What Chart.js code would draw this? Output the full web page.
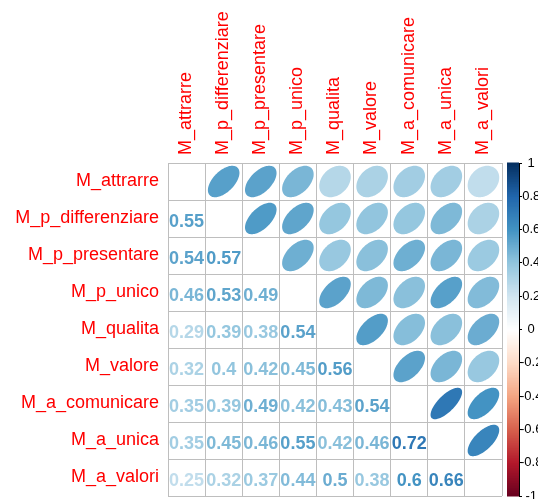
<!DOCTYPE html>
<html>
<head>
<meta charset="utf-8">
<title>Correlazioni</title>
<script src="https://cdn.jsdelivr.net/npm/chart.js@4/dist/chart.umd.min.js"></script>
<style>
  html, body { margin: 0; padding: 0; background: #ffffff; }
  #wrap { width: 538px; height: 499px; }
</style>
</head>
<body>
<div id="wrap"><canvas id="corr" width="538" height="499"></canvas></div>
<script>
// Variables (same order on rows and columns)
const variables = [
  'M_attrarre', 'M_p_differenziare', 'M_p_presentare', 'M_p_unico', 'M_qualita',
  'M_valore', 'M_a_comunicare', 'M_a_unica', 'M_a_valori'
];

// Lower triangle of the correlation matrix, one array per row
const r_attrarre        = [];
const r_p_differenziare = [0.55];
const r_p_presentare    = [0.54, 0.57];
const r_p_unico         = [0.46, 0.53, 0.49];
const r_qualita         = [0.29, 0.39, 0.38, 0.54];
const r_valore          = [0.32, 0.40, 0.42, 0.45, 0.56];
const r_a_comunicare    = [0.35, 0.39, 0.49, 0.42, 0.43, 0.54];
const r_a_unica         = [0.35, 0.45, 0.46, 0.55, 0.42, 0.46, 0.72];
const r_a_valori        = [0.25, 0.32, 0.37, 0.44, 0.50, 0.38, 0.60, 0.66];

// Colour legend ticks
const legendTicks = [1, 0.8, 0.6, 0.4, 0.2, 0, -0.2, -0.4, -0.6, -0.8, -1];

const lowerRows = [r_attrarre, r_p_differenziare, r_p_presentare, r_p_unico, r_qualita,
                   r_valore, r_a_comunicare, r_a_unica, r_a_valori];

// Diverging red-blue palette from -1 to 1
const rdbu = ['#67001F', '#B2182B', '#D6604D', '#F4A582', '#FDDBC7', '#FFFFFF',
              '#D1E5F0', '#92C5DE', '#4393C3', '#2166AC', '#053061'];

function hexToRgb(h) {
  return [parseInt(h.slice(1, 3), 16), parseInt(h.slice(3, 5), 16), parseInt(h.slice(5, 7), 16)];
}
function corrColor(v) {
  const pos = (Math.max(-1, Math.min(1, v)) + 1) / 2 * (rdbu.length - 1);
  const i = Math.min(rdbu.length - 2, Math.floor(pos));
  const t = pos - i;
  const a = hexToRgb(rdbu[i]), b = hexToRgb(rdbu[i + 1]);
  const c = a.map((x, k) => Math.round(x + (b[k] - x) * t));
  return 'rgb(' + c.join(',') + ')';
}

// Full symmetric matrix
function corrAt(i, j) {
  if (i === j) return 1;
  return i > j ? lowerRows[i][j] : lowerRows[j][i];
}

// One point per off-diagonal cell
const cells = [];
for (let i = 0; i < variables.length; i++) {
  for (let j = 0; j < variables.length; j++) {
    if (i === j) continue;
    cells.push({ x: variables[j], y: variables[i], row: i, col: j, v: corrAt(i, j) });
  }
}

const GRID = '#BEBEBE';
const FONT = "'Liberation Sans', Arial, sans-serif";

// Draws ellipses above the diagonal and coefficients below it
const corrMarks = {
  id: 'corrMarks',
  afterDatasetsDraw(chart) {
    const ctx = chart.ctx;
    const meta = chart.getDatasetMeta(0);
    const xs = chart.scales.x, ys = chart.scales.y;
    const cw = Math.abs(xs.getPixelForValue(1) - xs.getPixelForValue(0));
    const ch = Math.abs(ys.getPixelForValue(1) - ys.getPixelForValue(0));
    const data = chart.data.datasets[0].data;
    ctx.save();
    meta.data.forEach((el, k) => {
      const d = data[k];
      const col = corrColor(d.v);
      if (d.col > d.row) {
        const half = Math.acos(d.v) / 2;
        ctx.beginPath();
        const n = 99;
        for (let s = 0; s <= n; s++) {
          const t = s / n * Math.PI * 2;
          const ex = 0.85 * Math.cos(t + half) / 2;
          const ey = 0.85 * Math.cos(t - half) / 2;
          const px = el.x + ex * cw, py = el.y - ey * ch;
          if (s === 0) ctx.moveTo(px, py); else ctx.lineTo(px, py);
        }
        ctx.closePath();
        ctx.fillStyle = col;
        ctx.fill();
      } else {
        ctx.fillStyle = col;
        ctx.font = 'bold 18px ' + FONT;
        ctx.textAlign = 'center';
        ctx.textBaseline = 'alphabetic';
        ctx.fillText(String(d.v), el.x, el.y + 8);
      }
    });
    ctx.restore();
  }
};

// Colour legend strip next to its axis
const colorBar = {
  id: 'colorBar',
  afterLayout(chart) {
    const cb = chart.scales.cb;
    cb.left += 17;
    cb.right += 17;
  },
  beforeDatasetsDraw(chart) {
    const ctx = chart.ctx;
    const cb = chart.scales.cb;
    const x1 = cb.left - 12, x0 = cb.left;
    const steps = 200;
    ctx.save();
    for (let s = 0; s < steps; s++) {
      const v0 = -1 + 2 * s / steps, v1 = -1 + 2 * (s + 1) / steps;
      const p0 = cb.getPixelForValue(v0), p1 = cb.getPixelForValue(v1);
      ctx.fillStyle = corrColor((v0 + v1) / 2);
      ctx.fillRect(x1, Math.min(p0, p1) - 0.5, x0 - x1, Math.abs(p1 - p0) + 1);
    }
    ctx.restore();
  }
};

function noPadding(s) {
  s.paddingTop = 0; s.paddingBottom = 0; s.paddingLeft = 0; s.paddingRight = 0;
}

new Chart(document.getElementById('corr'), {
  type: 'scatter',
  data: {
    datasets: [{
      data: cells,
      pointRadius: 0,
      pointHoverRadius: 0
    }]
  },
  plugins: [colorBar, corrMarks],
  options: {
    responsive: false,
    animation: false,
    events: [],
    layout: { padding: { left: 0, top: 0, right: 0, bottom: 3 } },
    plugins: { legend: { display: false }, tooltip: { enabled: false } },
    scales: {
      x: {
        type: 'category',
        labels: variables,
        position: 'top',
        offset: true,
        grid: { offset: true, color: GRID, drawTicks: false, lineWidth: 1 },
        border: { color: GRID },
        ticks: {
          autoSkip: false, minRotation: 90, maxRotation: 90, padding: 8, labelOffset: 21,
          color: '#FF0000', font: { family: FONT, size: 18 }
        },
        afterFit(s) { s.height = 163; noPadding(s); }
      },
      y: {
        type: 'category',
        labels: variables,
        position: 'left',
        offset: true,
        grid: { offset: true, color: GRID, drawTicks: false, lineWidth: 1 },
        border: { color: GRID },
        ticks: {
          autoSkip: false, padding: 9,
          color: '#FF0000', font: { family: FONT, size: 18 }
        },
        afterFit(s) { s.width = 168; noPadding(s); }
      },
      cb: {
        type: 'linear',
        position: 'right',
        min: -1,
        max: 1,
        grid: { drawOnChartArea: false, color: '#000000', tickLength: 3 },
        border: { color: '#000000' },
        afterBuildTicks(s) { s.ticks = legendTicks.map(v => ({ value: v })); },
        ticks: {
          padding: -2,
          crossAlign: 'center',
          color: '#000000',
          font: { family: FONT, size: 13 },
          callback: v => String(v)
        },
        afterFit(s) { s.width = 36; noPadding(s); }
      }
    }
  }
});
</script>
</body>
</html>
